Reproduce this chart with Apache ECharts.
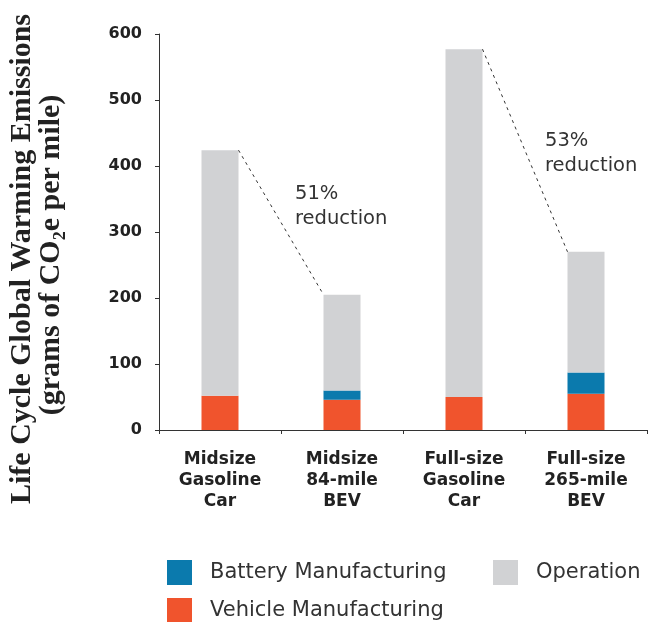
<!DOCTYPE html>
<html>
<head>
<meta charset="utf-8">
<script src="https://cdn.jsdelivr.net/npm/echarts@6/dist/echarts.min.js"></script>
<style>
html,body{margin:0;padding:0;background:#fff;}
#chart{width:649px;height:622px;}
</style>
</head>
<body>
<div id="chart"></div>
<script>
// ---- data ----
const categories = ['Midsize\nGasoline\nCar', 'Midsize\n84-mile\nBEV', 'Full-size\nGasoline\nCar', 'Full-size\n265-mile\nBEV'];
const vehicleManufacturing = [52, 46, 50, 55];
const batteryManufacturing = [0, 14, 0, 32];
const operation = [372, 145, 527, 183];
const yTicks = [0, 100, 200, 300, 400, 500, 600];
const reductionPairs = [[0, 1], [2, 3]];
const reductionLabels = ['51%\nreduction', '53%\nreduction'];

const totals = categories.map((_, i) => vehicleManufacturing[i] + batteryManufacturing[i] + operation[i]);
const connectorData = reductionPairs.map(p => [p[0], totals[p[0]], p[1], totals[p[1]]]);

const BAR_W = 37;
const COLORS = { vehicle: '#F0542D', battery: '#0B7AAD', operation: '#D1D2D4' };
const SANS = '"DejaVu Sans", sans-serif';
const SERIF = '"Liberation Serif", "Times New Roman", serif';

const chart = echarts.init(document.getElementById('chart'), null, { renderer: 'canvas' });

function legendAt(name, left, top) {
  return {
    data: [name], left: left, top: top, orient: 'horizontal', padding: 0,
    icon: 'rect', itemWidth: 25, itemHeight: 25, selectedMode: false,
    textStyle: { fontFamily: SANS, fontSize: 21, color: '#333', padding: [3, 0, 0, 13] }
  };
}

chart.setOption({
  animation: false,
  backgroundColor: '#fff',
  grid: { left: 159, right: 2, top: 34, bottom: 192, containLabel: false },
  legend: [
    legendAt('Battery Manufacturing', 167, 560),
    legendAt('Operation', 493, 560),
    legendAt('Vehicle Manufacturing', 167, 598)
  ],
  xAxis: {
    type: 'category',
    data: categories,
    axisLine: { lineStyle: { color: '#333', width: 1 } },
    axisTick: { show: true, length: 4, lineStyle: { color: '#333' } },
    axisLabel: { fontFamily: SANS, fontWeight: 'bold', fontSize: 17, lineHeight: 21, color: '#222', margin: 19, interval: 0 }
  },
  yAxis: {
    type: 'value',
    min: yTicks[0], max: yTicks[yTicks.length - 1], interval: yTicks[1] - yTicks[0],
    splitLine: { show: false },
    axisLine: { show: true, lineStyle: { color: '#333', width: 1 } },
    axisTick: { show: true, length: 4, lineStyle: { color: '#333' } },
    axisLabel: { fontFamily: SANS, fontWeight: 'bold', fontSize: 16, color: '#222', margin: 17 }
  },
  series: [
    { name: 'Vehicle Manufacturing', type: 'bar', stack: 'total', barWidth: BAR_W, data: vehicleManufacturing, itemStyle: { color: COLORS.vehicle } },
    { name: 'Battery Manufacturing', type: 'bar', stack: 'total', barWidth: BAR_W, data: batteryManufacturing, itemStyle: { color: COLORS.battery } },
    { name: 'Operation', type: 'bar', stack: 'total', barWidth: BAR_W, data: operation, itemStyle: { color: COLORS.operation } },
    {
      type: 'custom',
      data: connectorData,
      z: 10,
      silent: true,
      renderItem: function (params, api) {
        const p1 = api.coord([api.value(0), api.value(1)]);
        const p2 = api.coord([api.value(2), api.value(3)]);
        return {
          type: 'line',
          shape: { x1: p1[0] + BAR_W / 2, y1: p1[1], x2: p2[0] - BAR_W / 2, y2: p2[1] },
          style: { stroke: '#333', lineWidth: 1, lineDash: [3, 4] }
        };
      }
    }
  ],
  graphic: [
    {
      type: 'text', x: 295, y: 181,
      style: { text: reductionLabels[0], fontFamily: SANS, fontSize: 19.5, lineHeight: 25, fill: '#333', align: 'left', verticalAlign: 'top' }
    },
    {
      type: 'text', x: 545, y: 128,
      style: { text: reductionLabels[1], fontFamily: SANS, fontSize: 19.5, lineHeight: 25, fill: '#333', align: 'left', verticalAlign: 'top' }
    },
    {
      type: 'text', x: 22, y: 259, rotation: Math.PI / 2,
      style: { text: 'Life Cycle Global Warming Emissions', fontFamily: SERIF, fontWeight: 'bold', fontSize: 30, fill: '#222', align: 'center', verticalAlign: 'middle' }
    },
    {
      type: 'text', x: 51, y: 255, rotation: Math.PI / 2,
      style: { text: '(grams of CO₂e per mile)', fontFamily: SERIF, fontWeight: 'bold', fontSize: 30, fill: '#222', align: 'center', verticalAlign: 'middle' }
    }
  ]
});
</script>
</body>
</html>
